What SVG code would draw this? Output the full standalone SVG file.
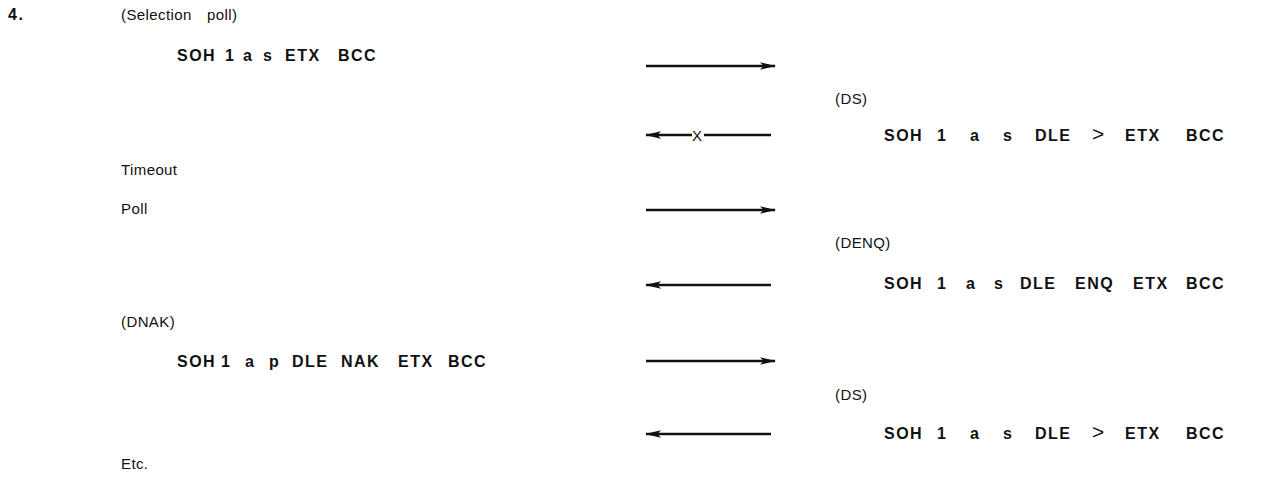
<svg xmlns="http://www.w3.org/2000/svg" width="1262" height="478" viewBox="0 0 1262 478">
<style>
text{font-family:"Liberation Sans",Arial,sans-serif;fill:#111;}
.r{font-size:15px;letter-spacing:0.4px;}
.b{font-size:16px;font-weight:bold;letter-spacing:1.5px;}
.gt{font-size:21px;font-weight:normal;letter-spacing:0;}
.ln{stroke:#111;stroke-width:2.4;fill:none;}
</style>
<defs>
<marker id="ah" markerWidth="16" markerHeight="9" refX="15" refY="4.5" orient="auto-start-reverse" markerUnits="userSpaceOnUse">
<path d="M0,0.8 L16,4.5 L0,8.2 L3.5,4.5 Z" fill="#111"/>
</marker>
</defs>
<rect width="1262" height="478" fill="#fff"/>
<g id="left">
<text id="n4" class="b" x="8" y="20">4.</text>
<text id="selpoll" class="r" y="20"><tspan x="121">(Selection</tspan><tspan x="207">poll)</tspan></text>
<text id="soh1" class="b" y="61"><tspan x="177">SOH</tspan><tspan x="225">1</tspan><tspan x="243">a</tspan><tspan x="263">s</tspan><tspan x="285">ETX</tspan><tspan x="338">BCC</tspan></text>
<text id="timeout" class="r" x="121" y="175">Timeout</text>
<text id="poll" class="r" x="121" y="214">Poll</text>
<text id="dnak" class="r" x="121" y="327">(DNAK)</text>
<text id="soh3" class="b" y="367"><tspan x="177">SOH</tspan><tspan x="221">1</tspan><tspan x="245">a</tspan><tspan x="269">p</tspan><tspan x="292">DLE</tspan><tspan x="341">NAK</tspan><tspan x="398">ETX</tspan><tspan x="448">BCC</tspan></text>
<text id="etc" class="r" x="121" y="469">Etc.</text>
</g>
<g id="right">
<text id="ds1" class="r" x="835" y="104">(DS)</text>
<text id="soh2" class="b" y="141"><tspan x="884">SOH</tspan><tspan x="937">1</tspan><tspan x="970">a</tspan><tspan x="1003">s</tspan><tspan x="1035">DLE</tspan><tspan x="1092" class="gt">&gt;</tspan><tspan x="1125">ETX</tspan><tspan x="1186">BCC</tspan></text>
<text id="denq" class="r" x="835" y="248">(DENQ)</text>
<text id="soh4" class="b" y="289"><tspan x="884">SOH</tspan><tspan x="937">1</tspan><tspan x="966">a</tspan><tspan x="994">s</tspan><tspan x="1020">DLE</tspan><tspan x="1075">ENQ</tspan><tspan x="1133">ETX</tspan><tspan x="1186">BCC</tspan></text>
<text id="ds2" class="r" x="835" y="400">(DS)</text>
<text id="soh5" class="b" y="439"><tspan x="884">SOH</tspan><tspan x="937">1</tspan><tspan x="970">a</tspan><tspan x="1003">s</tspan><tspan x="1035">DLE</tspan><tspan x="1092" class="gt">&gt;</tspan><tspan x="1125">ETX</tspan><tspan x="1186">BCC</tspan></text>
</g>
<g id="connectors">
<line class="ln" x1="646" y1="66" x2="775" y2="66" marker-end="url(#ah)"/>
<line class="ln" x1="646" y1="135" x2="692" y2="135" marker-start="url(#ah)"/>
<text class="r" x="692" y="141" style="letter-spacing:0">X</text>
<line class="ln" x1="704" y1="135" x2="771" y2="135"/>
<line class="ln" x1="646" y1="210" x2="775" y2="210" marker-end="url(#ah)"/>
<line class="ln" x1="646" y1="285" x2="771" y2="285" marker-start="url(#ah)"/>
<line class="ln" x1="646" y1="361" x2="775" y2="361" marker-end="url(#ah)"/>
<line class="ln" x1="646" y1="434" x2="771" y2="434" marker-start="url(#ah)"/>
</g>
</svg>
